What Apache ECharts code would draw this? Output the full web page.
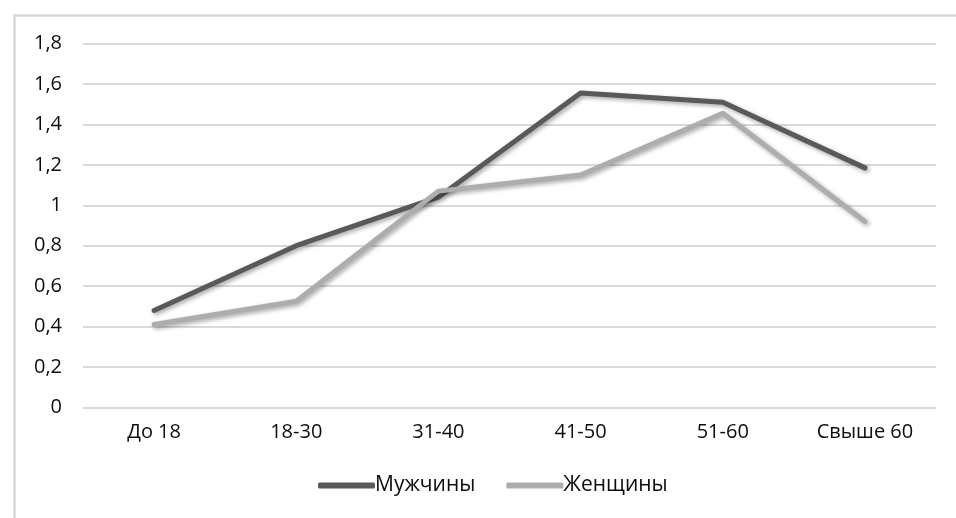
<!DOCTYPE html>
<html>
<head>
<meta charset="utf-8">
<script src="https://cdn.jsdelivr.net/npm/echarts@6/dist/echarts.min.js"></script>
<style>
  html, body { margin: 0; padding: 0; background: #ffffff; }
  #chart { width: 956px; height: 518px; }
</style>
</head>
<body>
<div id="chart"></div>
<script>
// Age groups along the horizontal axis
const categories = ['До 18', '18-30', '31-40', '41-50', '51-60', 'Свыше 60'];
// Series values per age group
const menValues = [0.48, 0.80, 1.04, 1.555, 1.51, 1.185];
const womenValues = [0.41, 0.525, 1.07, 1.15, 1.455, 0.92];
const seriesNames = ['Мужчины', 'Женщины'];
// Value axis range
const yMin = 0, yMax = 1.8, yStep = 0.2;

const font = '"Open Sans", "DejaVu Sans", sans-serif';
const textColor = '#0d0d0d';
const menColor = '#595959';
const womenColor = '#adadad';

const lineShadow = {
  shadowColor: 'rgba(0,0,0,0.35)',
  shadowBlur: 4,
  shadowOffsetX: 2,
  shadowOffsetY: 2
};

const chart = echarts.init(document.getElementById('chart'), null, { renderer: 'canvas' });
chart.setOption({
  animation: false,
  backgroundColor: '#ffffff',
  graphic: [{
    type: 'rect',
    left: 12, top: 13,
    shape: { width: 1000, height: 600 },
    style: { fill: 'none', stroke: '#d9d9d9', lineWidth: 2.5 },
    silent: true, z: -1
  }],
  grid: { left: 83, right: 20, top: 43.5, bottom: 110.5, containLabel: false },
  legend: {
    bottom: 17,
    left: 313,
    itemWidth: 57,
    itemHeight: 6,
    itemGap: 31,
    icon: 'roundRect',
    textStyle: { fontFamily: font, fontSize: 21, color: textColor, padding: [0, 0, 0, -5] },
    data: seriesNames
  },
  xAxis: {
    type: 'category',
    data: categories,
    boundaryGap: true,
    axisLine: { show: false },
    axisTick: { show: false },
    axisLabel: { fontFamily: font, fontSize: 20, color: textColor, margin: 15 }
  },
  yAxis: {
    type: 'value',
    min: yMin, max: yMax, interval: yStep,
    axisLine: { show: false },
    axisTick: { show: false },
    splitLine: { lineStyle: { color: '#d9d9d9', width: 2 } },
    axisLabel: {
      fontFamily: font, fontSize: 20, color: textColor, margin: 21,
      formatter: v => String(Math.round(v * 10) / 10).replace('.', ',')
    }
  },
  series: [
    {
      name: seriesNames[0],
      type: 'line',
      data: menValues,
      symbol: 'none',
      color: menColor,
      lineStyle: Object.assign({ color: menColor, width: 5, cap: 'round', join: 'round' }, lineShadow),
      z: 3
    },
    {
      name: seriesNames[1],
      type: 'line',
      data: womenValues,
      symbol: 'none',
      color: womenColor,
      lineStyle: Object.assign({ color: womenColor, width: 5, cap: 'round', join: 'round' }, lineShadow),
      z: 4
    }
  ]
});
</script>
</body>
</html>
